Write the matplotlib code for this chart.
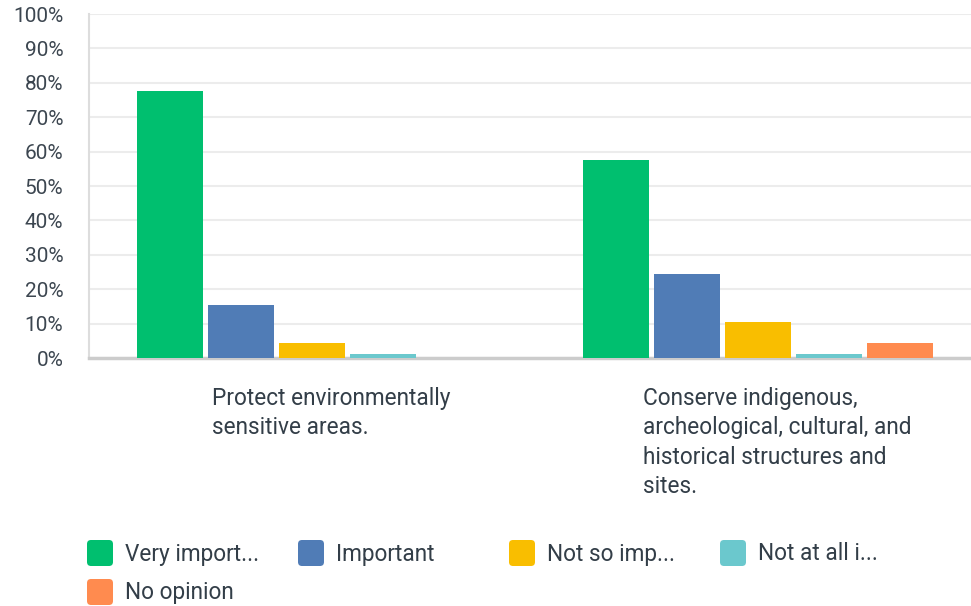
# Grouped bar chart: importance ratings for two survey items

import matplotlib.pyplot as plt
from matplotlib.patches import FancyBboxPatch
import numpy as np

# Data
categories = [
    "Protect environmentally\nsensitive areas.",
    "Conserve indigenous,\narcheological, cultural, and\nhistorical structures and\nsites.",
]
series = ["Very import...", "Important", "Not so imp...", "Not at all i...", "No opinion"]
very_important = [77.6, 57.6]
important = [15.4, 24.4]
not_so_important = [4.4, 10.5]
not_at_all = [1.2, 1.2]
no_opinion = [0.0, 4.4]
values = [very_important, important, not_so_important, not_at_all, no_opinion]
colors = ["#00bf6f", "#507cb6", "#f9be00", "#6bc8cd", "#ff8b4f"]
yticks = [0, 10, 20, 30, 40, 50, 60, 70, 80, 90, 100]

text_color = "#333e48"
plt.rcParams["font.family"] = ["Roboto", "DejaVu Sans"]

fig = plt.figure(figsize=(9.71, 6.06), dpi=100)
ax = fig.add_axes([89 / 971, 1 - 358 / 606, 892 / 971, 344 / 606])

x = np.arange(len(categories))
step = 0.159
width = 0.148
for i, (vals, col) in enumerate(zip(values, colors)):
    ax.bar(x + (i - 2) * step, vals, width=width, color=col, zorder=3)

ax.set_xlim(-0.5, 1.5)
ax.set_ylim(0, 100)
ax.set_yticks(yticks)
ax.set_yticklabels([f"{t}%" for t in yticks], fontsize=15, color="#3c4650")
ax.tick_params(axis="y", length=0, pad=18.5)
ax.set_xticks([])
ax.grid(axis="y", color="#ececec", linewidth=1.5, zorder=0)

for s in ["top", "right"]:
    ax.spines[s].set_visible(False)
ax.spines["left"].set_color("#dddddd")
ax.spines["left"].set_linewidth(1.5)
ax.spines["bottom"].set_color("#cccccc")
ax.spines["bottom"].set_linewidth(2.5)

# category labels below the groups
for xi, lab in zip(x, categories):
    ax.text(xi + 0.043, -8.3, lab, ha="center", va="top", multialignment="left",
            fontsize=16.3, color=text_color, linespacing=1.36)

# legend, four evenly spaced columns
for i, (name, col) in enumerate(zip(series, colors)):
    row, c = divmod(i, 4)
    left = (87 + c * 211) / 100
    bottom = (606 - 566 - row * 39) / 100
    fig.add_artist(FancyBboxPatch((left, bottom), 0.26, 0.26,
                                  boxstyle="round,pad=0,rounding_size=0.04",
                                  transform=fig.dpi_scale_trans, facecolor=col,
                                  edgecolor="none"))
    fig.text(left + 0.38, bottom + 0.12, name, transform=fig.dpi_scale_trans,
             ha="left", va="center", fontsize=16.3, color=text_color)

fig.savefig("out.png", dpi=100)
